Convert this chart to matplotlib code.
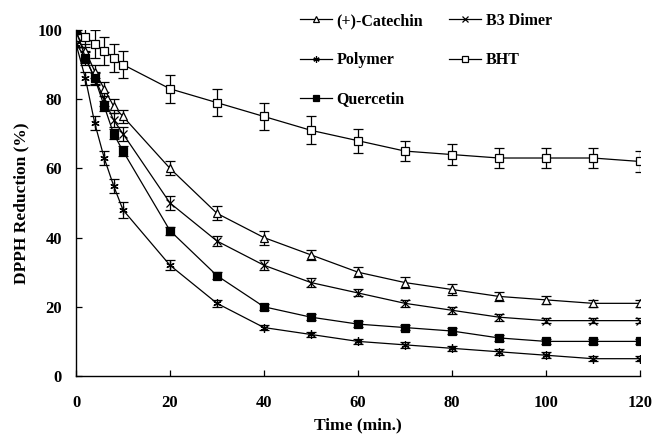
import matplotlib
matplotlib.use("Agg")
import matplotlib.pyplot as plt

# DPPH reduction (%) over time for each antioxidant
time_min = [0, 2, 4, 6, 8, 10, 20, 30, 40, 50, 60, 70, 80, 90, 100, 110, 120]

catechin = [98, 94, 88, 83, 78, 75, 60, 47, 40, 35, 30, 27, 25, 23, 22, 21, 21]
catechin_err = [1, 2, 2, 2, 2, 2, 2, 2, 2, 1.5, 1.5, 1.5, 1.5, 1.2, 1.2, 1, 1]

b3_dimer = [96, 92, 86, 80, 74, 70, 50, 39, 32, 27, 24, 21, 19, 17, 16, 16, 16]
b3_dimer_err = [1, 2, 2, 2, 2, 2, 2, 1.5, 1.5, 1.2, 1, 1, 1, 1, 0.8, 0.8, 0.8]

polymer = [96, 86, 73, 63, 55, 48, 32, 21, 14, 12, 10, 9, 8, 7, 6, 5, 5]
polymer_err = [1, 2, 2, 2, 2, 2.3, 1.5, 1, 0.8, 0.8, 0.8, 0.8, 0.8, 0.8, 0.8, 0.8, 0.8]

bht = [100, 98, 96, 94, 92, 90, 83, 79, 75, 71, 68, 65, 64, 63, 63, 63, 62]
bht_err = [1, 3, 4, 4, 4, 4, 4, 4, 4, 4, 3.5, 3, 3, 3, 3, 3, 3]

quercetin = [100, 92, 86, 78, 70, 65, 42, 29, 20, 17, 15, 14, 13, 11, 10, 10, 10]
quercetin_err = [0.5, 1.5, 1.5, 1.5, 1.5, 1.5, 1.2, 1, 0.8, 0.8, 0.8, 0.8, 0.8, 0.8, 0.8, 0.8, 0.8]

plt.rcParams["font.family"] = ["Liberation Serif", "DejaVu Serif"]
plt.rcParams["font.weight"] = "bold"

fig = plt.figure(figsize=(6.53, 4.41), dpi=100)
ax = fig.add_axes([0.1164, 0.1474, 0.8636, 0.7846])

common = dict(color="black", linewidth=0.9, elinewidth=0.9, capsize=3.5,
              capthick=0.9, markersize=6, markeredgewidth=0.9)

h_cat = ax.errorbar(time_min, catechin, yerr=catechin_err, marker="^",
                    markerfacecolor="white", markeredgecolor="black",
                    label="(+)-Catechin", **common)
h_b3 = ax.errorbar(time_min, b3_dimer, yerr=b3_dimer_err, marker="x",
                   markeredgecolor="black", label="B3 Dimer", **common)
h_pol = ax.errorbar(time_min, polymer, yerr=polymer_err, marker=(6, 2, 0),
                    markeredgecolor="black", label="Polymer", **common)
h_bht = ax.errorbar(time_min, bht, yerr=bht_err, marker="s",
                    markerfacecolor="white", markeredgecolor="black",
                    label="BHT", **common)
h_que = ax.errorbar(time_min, quercetin, yerr=quercetin_err, marker="s",
                    markerfacecolor="black", markeredgecolor="black",
                    label="Quercetin", **common)

ax.set_xlim(0, 120)
ax.set_ylim(0, 100)
ax.set_xticks(range(0, 121, 20))
ax.set_yticks(range(0, 101, 20))
ax.tick_params(direction="in", length=4, width=0.9, labelsize=12)
ax.tick_params(axis="x", pad=14)
ax.tick_params(axis="y", pad=10)
for side in ("top", "right"):
    ax.spines[side].set_visible(False)
for side in ("left", "bottom"):
    ax.spines[side].set_linewidth(1.0)

ax.set_xlabel("Time (min.)", fontsize=12.5, fontweight="bold", labelpad=4)
ax.set_ylabel("DPPH Reduction (%)", fontsize=12.5, fontweight="bold", labelpad=6)

# column-first ordering gives the row layout Catechin/B3, Polymer/BHT, Quercetin
handles = [h_cat, h_pol, h_que, h_b3, h_bht]
labels = [h.get_label() for h in handles]
leg = fig.legend([h[0] for h in handles], labels, ncol=2, loc="upper left",
                 bbox_to_anchor=(300 / 653, 1 - 13 / 441), frameon=False,
                 fontsize=11.5, handlelength=2.0, handletextpad=0.3,
                 columnspacing=1.6, labelspacing=1.45, borderpad=0,
                 borderaxespad=0)
for line in leg.get_lines():
    line.set_markersize(4.5)

fig.savefig("out.png", dpi=100)
